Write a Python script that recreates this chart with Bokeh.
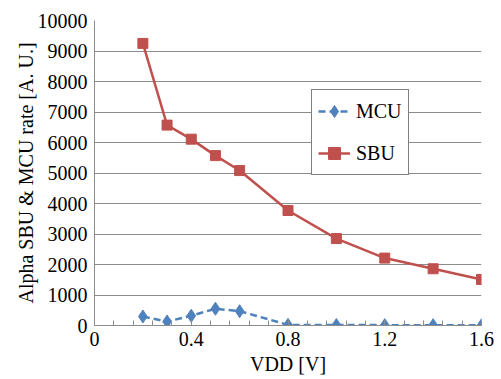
from bokeh.plotting import figure
from bokeh.models import Legend, LegendItem, FixedTicker, Range1d
from bokeh.embed import file_html
from bokeh.resources import INLINE

# Supply voltage sweep and measured upset rates
vdd = [0.2, 0.3, 0.4, 0.5, 0.6, 0.8, 1.0, 1.2, 1.4, 1.6]
mcu_rate = [295, 130, 320, 550, 470, 20, 15, 12, 10, 8]
sbu_rate = [9250, 6570, 6110, 5570, 5080, 3770, 2850, 2210, 1860, 1510]

x_ticks = [0, 0.4, 0.8, 1.2, 1.6]
x_tick_labels = ["0", "0.4", "0.8", "1.2", "1.6"]
y_ticks = [0, 1000, 2000, 3000, 4000, 5000, 6000, 7000, 8000, 9000, 10000]

FONT = "Liberation Serif"
GRAY = "#8c8c8c"
BLUE = "#4F81BD"
RED = "#C0504D"

p = figure(width=501, height=379, output_backend="svg", toolbar_location=None,
           x_range=Range1d(0, 1.6), y_range=Range1d(0, 10000),
           min_border_left=94, min_border_right=20, min_border_top=20,
           min_border_bottom=54)
p.outline_line_color = None
p.background_fill_color = "white"
p.border_fill_color = "white"

p.xgrid.grid_line_color = None
p.ygrid.grid_line_color = GRAY
p.ygrid.grid_line_width = 1

minor = [round(i * 0.08, 2) for i in range(21)]
p.xaxis.ticker = FixedTicker(ticks=x_ticks, minor_ticks=minor)
p.xaxis.major_label_overrides = {t: s for t, s in zip(x_ticks, x_tick_labels)}
p.yaxis.ticker = FixedTicker(ticks=y_ticks)

for ax in (p.xaxis[0], p.yaxis[0]):
    ax.axis_line_color = GRAY
    ax.axis_line_width = 1
    ax.major_label_text_font = FONT
    ax.major_label_text_font_size = "20px"
    ax.major_label_text_color = "black"
    ax.axis_label_text_font = FONT
    ax.axis_label_text_font_size = "20px"
    ax.axis_label_text_font_style = "normal"
    ax.axis_label_text_color = "black"

p.xaxis.major_tick_in = 5
p.xaxis.major_tick_out = 0
p.xaxis.minor_tick_in = 5
p.xaxis.minor_tick_out = 0
p.xaxis.major_tick_line_color = GRAY
p.xaxis.minor_tick_line_color = GRAY
p.xaxis.major_label_standoff = 6
p.xaxis.axis_label = "VDD [V]"
p.xaxis.axis_label_standoff = 4

p.yaxis.major_tick_in = 0
p.yaxis.major_tick_out = 0
p.yaxis.minor_tick_line_color = None
p.yaxis.major_label_standoff = 7
p.yaxis.axis_label = "Alpha SBU & MCU rate [A. U.]"
p.yaxis.axis_label_standoff = -2

mcu_line = p.line(vdd, mcu_rate, line_color=BLUE, line_width=2.5, line_dash="7 4")
mcu_pts = p.scatter(vdd, mcu_rate, marker="diamond", size=13, fill_color=BLUE,
                    line_color=BLUE)
sbu_line = p.line(vdd, sbu_rate, line_color=RED, line_width=2.5)
sbu_pts = p.scatter(vdd, sbu_rate, marker="square", size=10, fill_color=RED,
                    line_color=RED)

legend = Legend(items=[LegendItem(label="MCU", renderers=[mcu_line, mcu_pts]),
                       LegendItem(label="SBU", renderers=[sbu_line, sbu_pts])],
                location=(217, 150))
legend.label_text_font = FONT
legend.label_text_font_size = "20px"
legend.label_text_color = "black"
legend.border_line_color = "black"
legend.border_line_width = 1
legend.background_fill_color = "white"
legend.background_fill_alpha = 1
legend.padding = 6
legend.margin = 0
legend.spacing = 12
legend.glyph_width = 32
legend.glyph_height = 30
legend.label_height = 30
legend.label_standoff = 6
p.add_layout(legend)

open("out.html", "w").write(file_html(p, INLINE))
